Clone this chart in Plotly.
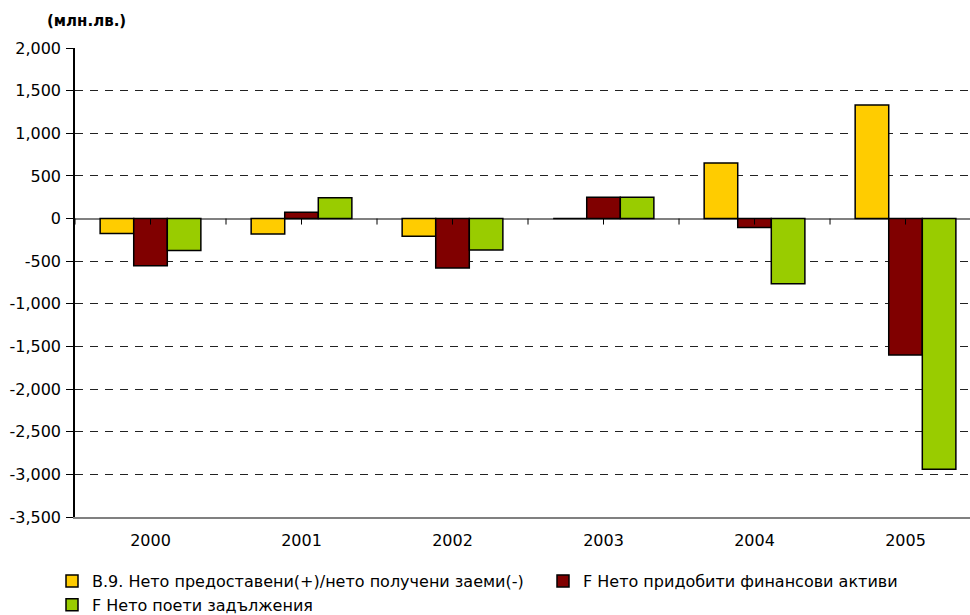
import plotly.graph_objects as go

years = ["2000", "2001", "2002", "2003", "2004", "2005"]
s1_name = "B.9. Нето предоставени(+)/нето получени заеми(-)"
s2_name = "F Нето придобити финансови активи"
s3_name = "F Нето поети задължения"
s1 = [-176, -180, -208, 0, 650, 1333]
s2 = [-553, 74, -580, 250, -106, -1600]
s3 = [-376, 243, -368, 250, -765, -2940]
y_ticks = [2000, 1500, 1000, 500, 0, -500, -1000, -1500, -2000, -2500, -3000, -3500]
y_ticktext = [f"{v:,}" for v in y_ticks]

FONT = "DejaVu Sans, Liberation Sans, sans-serif"
y_min, y_max = -3500, 2000
x_range = [-0.5, 5.427]
PLOT_H = 615 - 48 - 98

fig = go.Figure()
for name, vals, col, lg in [(s1_name, s1, "#FFCC00", "legend"),
                            (s2_name, s2, "#800000", "legend2"),
                            (s3_name, s3, "#99CC00", "legend")]:
    fig.add_trace(go.Bar(x=years, y=vals, name=name, legend=lg,
                         marker=dict(color=col, line=dict(color="black", width=1.5))))

# small tick marks along the zero line (category axis crosses at 0)
tick_len_units = 6 * (y_max - y_min) / PLOT_H
half_ticks = [i * 0.5 - 0.5 for i in range(2 * len(years) + 1)]
for t in half_ticks:
    fig.add_shape(type="line", xref="x", yref="y", x0=t, x1=t, y0=0, y1=-tick_len_units,
                  line=dict(color="black", width=1), layer="above")

leg_common = dict(orientation="h", xref="container", yref="container", xanchor="left", yanchor="top",
                  font=dict(size=16, family=FONT), tracegroupgap=0, traceorder="normal",
                  bgcolor="rgba(0,0,0,0)", entrywidth=520, entrywidthmode="pixels")
fig.update_layout(
    width=970, height=615,
    margin=dict(l=75, r=0, t=48, b=98, autoexpand=False),
    paper_bgcolor="white", plot_bgcolor="white",
    font=dict(family=FONT, size=15, color="black"),
    bargap=0.333, bargroupgap=0,
    showlegend=True,
    legend=dict(x=52 / 970, y=(615 - 564) / 615, **leg_common),
    legend2=dict(x=543 / 970, y=(615 - 564) / 615, **leg_common),
    annotations=[dict(text="<b>(млн.лв.)</b>", xref="paper", yref="paper", x=(45 - 75) / 895,
                      y=(517 - 21) / 469, xanchor="left", yanchor="middle", showarrow=False,
                      font=dict(size=15, family=FONT))],
)
fig.update_xaxes(type="category", range=x_range, showline=True, linecolor="#808080", linewidth=1.5,
                 ticks="", showgrid=False, zeroline=False,
                 tickfont=dict(size=16, family=FONT), ticklabelstandoff=8)
fig.update_yaxes(range=[y_min, y_max], tickvals=y_ticks, ticktext=y_ticktext,
                 showline=True, linecolor="black", linewidth=1.5,
                 ticks="outside", ticklen=7, tickcolor="black",
                 showgrid=True, gridcolor="#222222", gridwidth=1, griddash="8px,7px",
                 zeroline=True, zerolinecolor="#808080", zerolinewidth=2,
                 tickfont=dict(size=16, family=FONT), ticklabelstandoff=2)
fig.write_html("out.html")
